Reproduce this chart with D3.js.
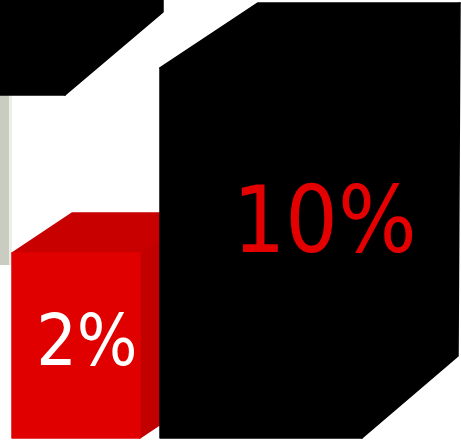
<!DOCTYPE html>
<html>
<head>
<meta charset="utf-8">
<script src="https://cdn.jsdelivr.net/npm/d3@7"></script>
<style>
  html, body { margin: 0; padding: 0; background: #fff; overflow: hidden; }
  svg { display: block; }
</style>
</head>
<body>
<svg id="chart" width="461" height="440"></svg>
<script>
// Front row: the two labelled columns
const categories = ["A", "B"];
const values = [2, 10];
const valueLabels = ["2%", "10%"];

// Back row: column partly out of view at the top left
const backCategories = ["C"];
const backValues = [10];

const W = 461, H = 440;
const svg = d3.select("#chart");

// Truncated value axis: the columns stand on a floor below the visible range
const y = d3.scaleLinear().domain([-6, 10]).range([438, 68]);
const baseline = y(-6);

// Horizontal placement of the front columns (uneven widths from the perspective view)
const x = d3.scaleOrdinal().domain(categories).range([[12, 140], [160, 362]]);
const xBack = d3.scaleOrdinal().domain(backCategories).range([[-120, 65]]);

// Per-column receding edges (depth vectors at top and bottom) and face colours
const look = {
  A: { dTop: [60, -40], dBot: [60, -40], front: "#e00000", top: "#c80000", side: "#c20000",
       label: "#ffffff", size: 71, lx: 0.18, ly: 365 },
  B: { dTop: [98, -65], dBot: [96, -82], front: "#000000", top: "#000000", side: "#000000",
       label: "#e40000", size: 92, lx: 0.65, ly: 252 },
  C: { dTop: [98, -83], dBot: [98, -83], front: "#000000", top: "#000000", side: "#000000" }
};

function faces(x0, x1, yTop, yBot, s) {
  const [tx, ty] = s.dTop, [bx, by] = s.dBot;
  return [
    { fill: s.side, pts: [[x1, yTop], [x1 + tx, yTop + ty], [x1 + bx, yBot + by], [x1, yBot]] },
    { fill: s.top,  pts: [[x0, yTop], [x0 + tx, yTop + ty], [x1 + tx, yTop + ty], [x1, yTop]] },
    { fill: s.front, pts: [[x0, yTop], [x1, yTop], [x1, yBot], [x0, yBot]] }
  ];
}

const line = d3.line();

function drawFaces(g, list) {
  list.forEach(f => {
    g.append("path").attr("d", line(f.pts) + "Z")
      .attr("fill", f.fill)
      .attr("stroke", f.fill).attr("stroke-width", 1.5).attr("stroke-linejoin", "round");
  });
}

// Grey back panel at the far left
svg.append("rect").attr("x", 0).attr("y", 95).attr("width", 9).attr("height", 170)
  .attr("fill", "#c8ccc1");
svg.append("rect").attr("x", 9).attr("y", 95).attr("width", 3).attr("height", 170)
  .attr("fill", "#eceee8");

// Back-row column, lifted by the row offset
const rowLift = baseline - 95;
backCategories.forEach((c, i) => {
  const [x0, x1] = xBack(c);
  const g = svg.append("g").attr("class", "back-col");
  drawFaces(g, faces(x0, x1, y(backValues[i]) - rowLift - 400, baseline - rowLift, look[c]));
});

// Front-row columns, drawn left to right so the nearer one overlaps
categories.forEach((c, i) => {
  const [x0, x1] = x(c);
  const g = svg.append("g").attr("class", "col");
  drawFaces(g, faces(x0, x1, y(values[i]), baseline, look[c]));
});

// Value labels
categories.forEach((c, i) => {
  const [x0, x1] = x(c);
  const s = look[c];
  svg.append("text")
    .attr("x", (x0 + x1) / 2 + s.lx * s.dTop[0])
    .attr("y", s.ly)
    .attr("text-anchor", "middle")
    .attr("font-family", "'DejaVu Sans Condensed', 'DejaVu Sans', sans-serif")
    .attr("font-stretch", "condensed")
    .attr("font-size", s.size)
    .attr("fill", s.label)
    .text(valueLabels[i]);
});
</script>
</body>
</html>
